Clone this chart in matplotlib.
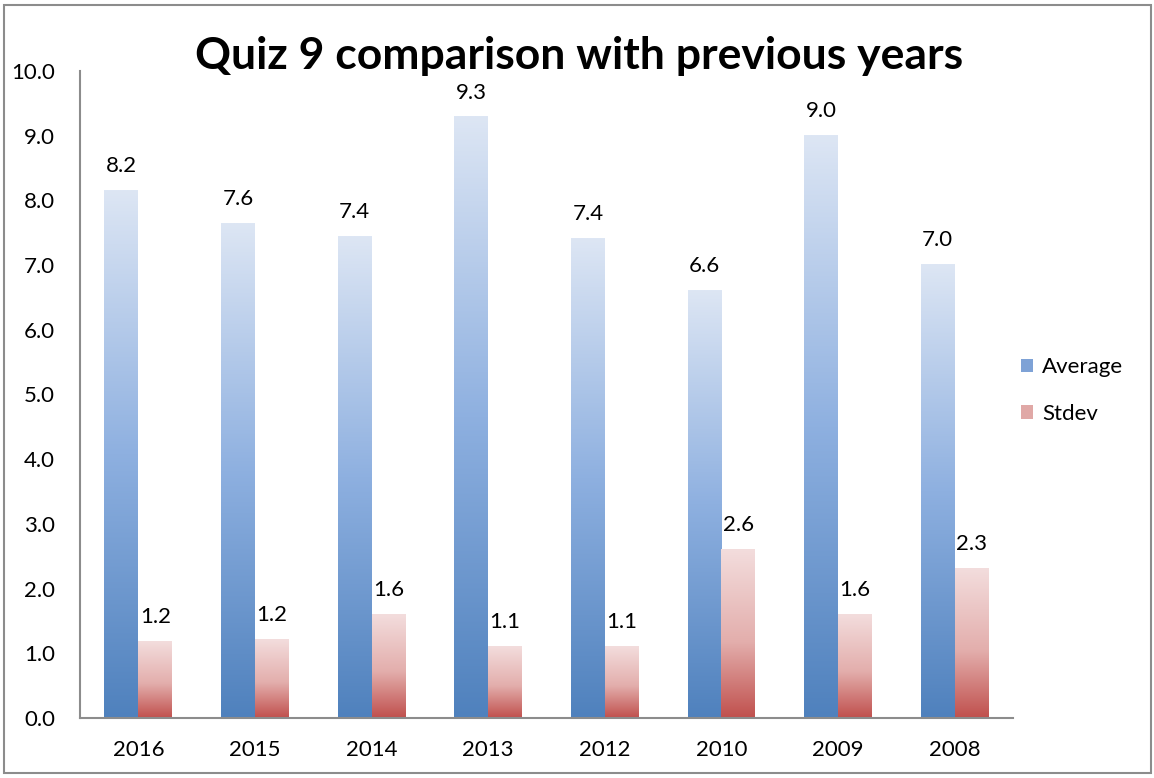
import numpy as np
import matplotlib.pyplot as plt
from matplotlib.colors import LinearSegmentedColormap
from matplotlib.patches import Rectangle

plt.rcParams['font.family'] = ['Lato', 'DejaVu Sans']

# 数据
years = ['2016', '2015', '2014', '2013', '2012', '2010', '2009', '2008']
average = [8.16, 7.64, 7.44, 9.29, 7.41, 6.61, 9.01, 7.01]
stdev = [1.18, 1.22, 1.60, 1.11, 1.11, 2.61, 1.60, 2.31]

# 渐变色
cmap_blue = LinearSegmentedColormap.from_list('b', ['#4f81bd', '#8eb0e0', '#dde6f4'])
cmap_red = LinearSegmentedColormap.from_list('r', [(0, '#c0504d'), (0.45, '#e3aeac'), (1, '#f3dddd')])

fig = plt.figure(figsize=(11.54, 7.78), dpi=100)
ax = fig.add_axes([80 / 1154, 60 / 778, 933 / 1154, 647 / 778])

x = np.arange(len(years))
w = 0.29
bars1 = ax.bar(x - w / 2, average, w, facecolor='none', edgecolor='none', label='Average')
bars2 = ax.bar(x + w / 2, stdev, w, facecolor='none', edgecolor='none', label='Stdev')

grad = np.linspace(0, 1, 256).reshape(-1, 1)
for bars, cm in ((bars1, cmap_blue), (bars2, cmap_red)):
    for b in bars:
        bx, bw, bh = b.get_x(), b.get_width(), b.get_height()
        ax.imshow(grad, cmap=cm, origin='lower', aspect='auto',
                  extent=[bx, bx + bw, 0, bh], zorder=2)

# 数值标签
for b, v in zip(bars1, average):
    ax.text(b.get_x() + b.get_width() / 2, v + 0.22, f'{v:.1f}', ha='center', va='bottom', fontsize=16)
for b, v in zip(bars2, stdev):
    ax.text(b.get_x() + b.get_width() / 2, v + 0.22, f'{v:.1f}', ha='center', va='bottom', fontsize=16)

ax.set_xlim(-0.5, len(years) - 0.5)
ax.set_ylim(0, 10)
ax.set_yticks(np.arange(0, 10.01, 1.0))
ax.set_yticklabels([f'{t:.1f}' for t in np.arange(0, 10.01, 1.0)])
ax.set_xticks(x)
ax.set_xticklabels(years)
ax.tick_params(length=0, labelsize=16)
ax.tick_params(axis='x', pad=16)
ax.tick_params(axis='y', pad=18)
for s in ('top', 'right'):
    ax.spines[s].set_visible(False)
for s in ('left', 'bottom'):
    ax.spines[s].set_color('#8c8c8c')
    ax.spines[s].set_linewidth(1.5)

fig.text(0.502, 0.928, 'Quiz 9 comparison with previous years', ha='center', va='center',
         fontsize=32, fontweight='bold')

# 图例
h1 = Rectangle((0, 0), 1, 1, facecolor='#7ea2d6')
h2 = Rectangle((0, 0), 1, 1, facecolor='#e0a8a6')
fig.legend([h1, h2], ['Average', 'Stdev'], loc='center left', bbox_to_anchor=(1001 / 1154, 0.498),
           frameon=False, fontsize=16, handlelength=0.55, handleheight=0.55, labelspacing=1.2,
           handletextpad=0.4)

# 外框
fig.patches.append(Rectangle((4 / 1154, 5 / 778), 1147 / 1154, 768 / 778, transform=fig.transFigure,
                             fill=False, edgecolor='#8c8c8c', linewidth=1.5))

fig.savefig('out.png', dpi=100)
